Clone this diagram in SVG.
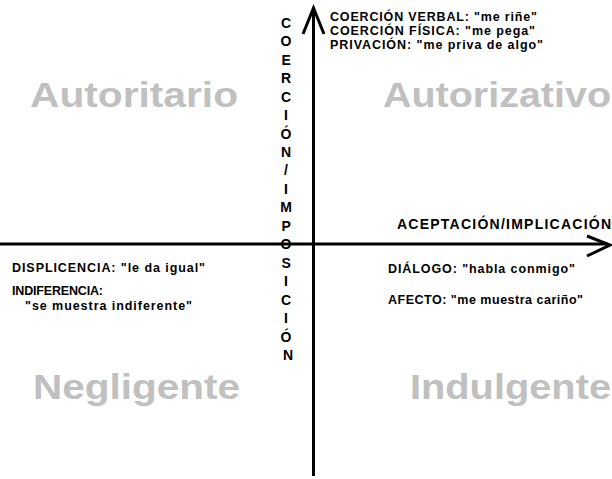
<svg xmlns="http://www.w3.org/2000/svg" width="612" height="479" viewBox="0 0 612 479">
  <style>
    text { font-family: "Liberation Sans", Arial, Helvetica, sans-serif; font-weight: bold; }
    .q { font-size: 35px; fill: #c0c0c0; }
    .s { font-size: 12.5px; fill: #000; }
    .ax { font-size: 14px; fill: #000; }
    .big { font-size: 14px; fill: #000; }
    .axis { stroke: #000; stroke-width: 3; fill: none; }
  </style>
  <rect x="0" y="0" width="612" height="479" fill="#fff"/>

  <g id="connectors">
    <line class="axis" x1="313.5" y1="476" x2="313.5" y2="9"/>
    <polyline class="axis" points="303,34 313.5,8 324,34"/>
    <line class="axis" x1="0" y1="244" x2="608" y2="244"/>
    <polyline class="axis" points="587,236 610,245 587,256"/>
  </g>

  <g id="autoritario"><text class="q" x="30" y="107" textLength="208" lengthAdjust="spacingAndGlyphs">Autoritario</text></g>
  <g id="autorizativo"><text class="q" x="383" y="107" textLength="228" lengthAdjust="spacingAndGlyphs">Autorizativo</text></g>
  <g id="negligente"><text class="q" x="33" y="399" textLength="207" lengthAdjust="spacingAndGlyphs">Negligente</text></g>
  <g id="indulgente"><text class="q" x="410" y="399" textLength="201" lengthAdjust="spacingAndGlyphs">Indulgente</text></g>

  <g id="coercion-list">
    <text class="s" x="330" y="20.5" textLength="207" lengthAdjust="spacing">COERCIÓN VERBAL: "me riñe"</text>
    <text class="s" x="330" y="34.5" textLength="205" lengthAdjust="spacing">COERCIÓN FÍSICA: "me pega"</text>
    <text class="s" x="330" y="48.5" textLength="213" lengthAdjust="spacing">PRIVACIÓN: "me priva de algo"</text>
  </g>

  <g id="eje-vertical-label">
    <text class="ax" text-anchor="middle">
      <tspan x="288" y="27.7">C</tspan>
      <tspan x="288" y="46.2">O</tspan>
      <tspan x="288" y="64.6">E</tspan>
      <tspan x="288" y="83.1">R</tspan>
      <tspan x="288" y="101.6">C</tspan>
      <tspan x="288" y="120">I</tspan>
      <tspan x="288" y="138.5">Ó</tspan>
      <tspan x="288" y="157">N</tspan>
      <tspan x="288" y="175.4">/</tspan>
      <tspan x="288" y="193.9">I</tspan>
      <tspan x="288" y="212.4">M</tspan>
      <tspan x="288" y="230.8">P</tspan>
      <tspan x="288" y="249.3">O</tspan>
      <tspan x="288" y="267.8">S</tspan>
      <tspan x="288" y="286.2">I</tspan>
      <tspan x="288" y="304.7">C</tspan>
      <tspan x="288" y="323.2">I</tspan>
      <tspan x="288" y="341.6">Ó</tspan>
      <tspan x="288" y="360.1">N</tspan>
    </text>
  </g>

  <g id="eje-horizontal-label">
    <text class="big" x="397" y="228.5" textLength="214" lengthAdjust="spacing">ACEPTACIÓN/IMPLICACIÓN</text>
  </g>

  <g id="displicencia">
    <text class="s" x="12" y="271.5" textLength="193" lengthAdjust="spacing">DISPLICENCIA: "le da igual"</text>
  </g>
  <g id="indiferencia">
    <text class="s" x="12" y="294.5" textLength="91" lengthAdjust="spacing">INDIFERENCIA:</text>
    <text class="s" x="25" y="310" textLength="167" lengthAdjust="spacing">"se muestra indiferente"</text>
  </g>
  <g id="dialogo">
    <text class="s" x="388" y="273" textLength="187" lengthAdjust="spacing">DIÁLOGO: "habla conmigo"</text>
  </g>
  <g id="afecto">
    <text class="s" x="388" y="304" textLength="195" lengthAdjust="spacing">AFECTO: "me muestra cariño"</text>
  </g>
</svg>
